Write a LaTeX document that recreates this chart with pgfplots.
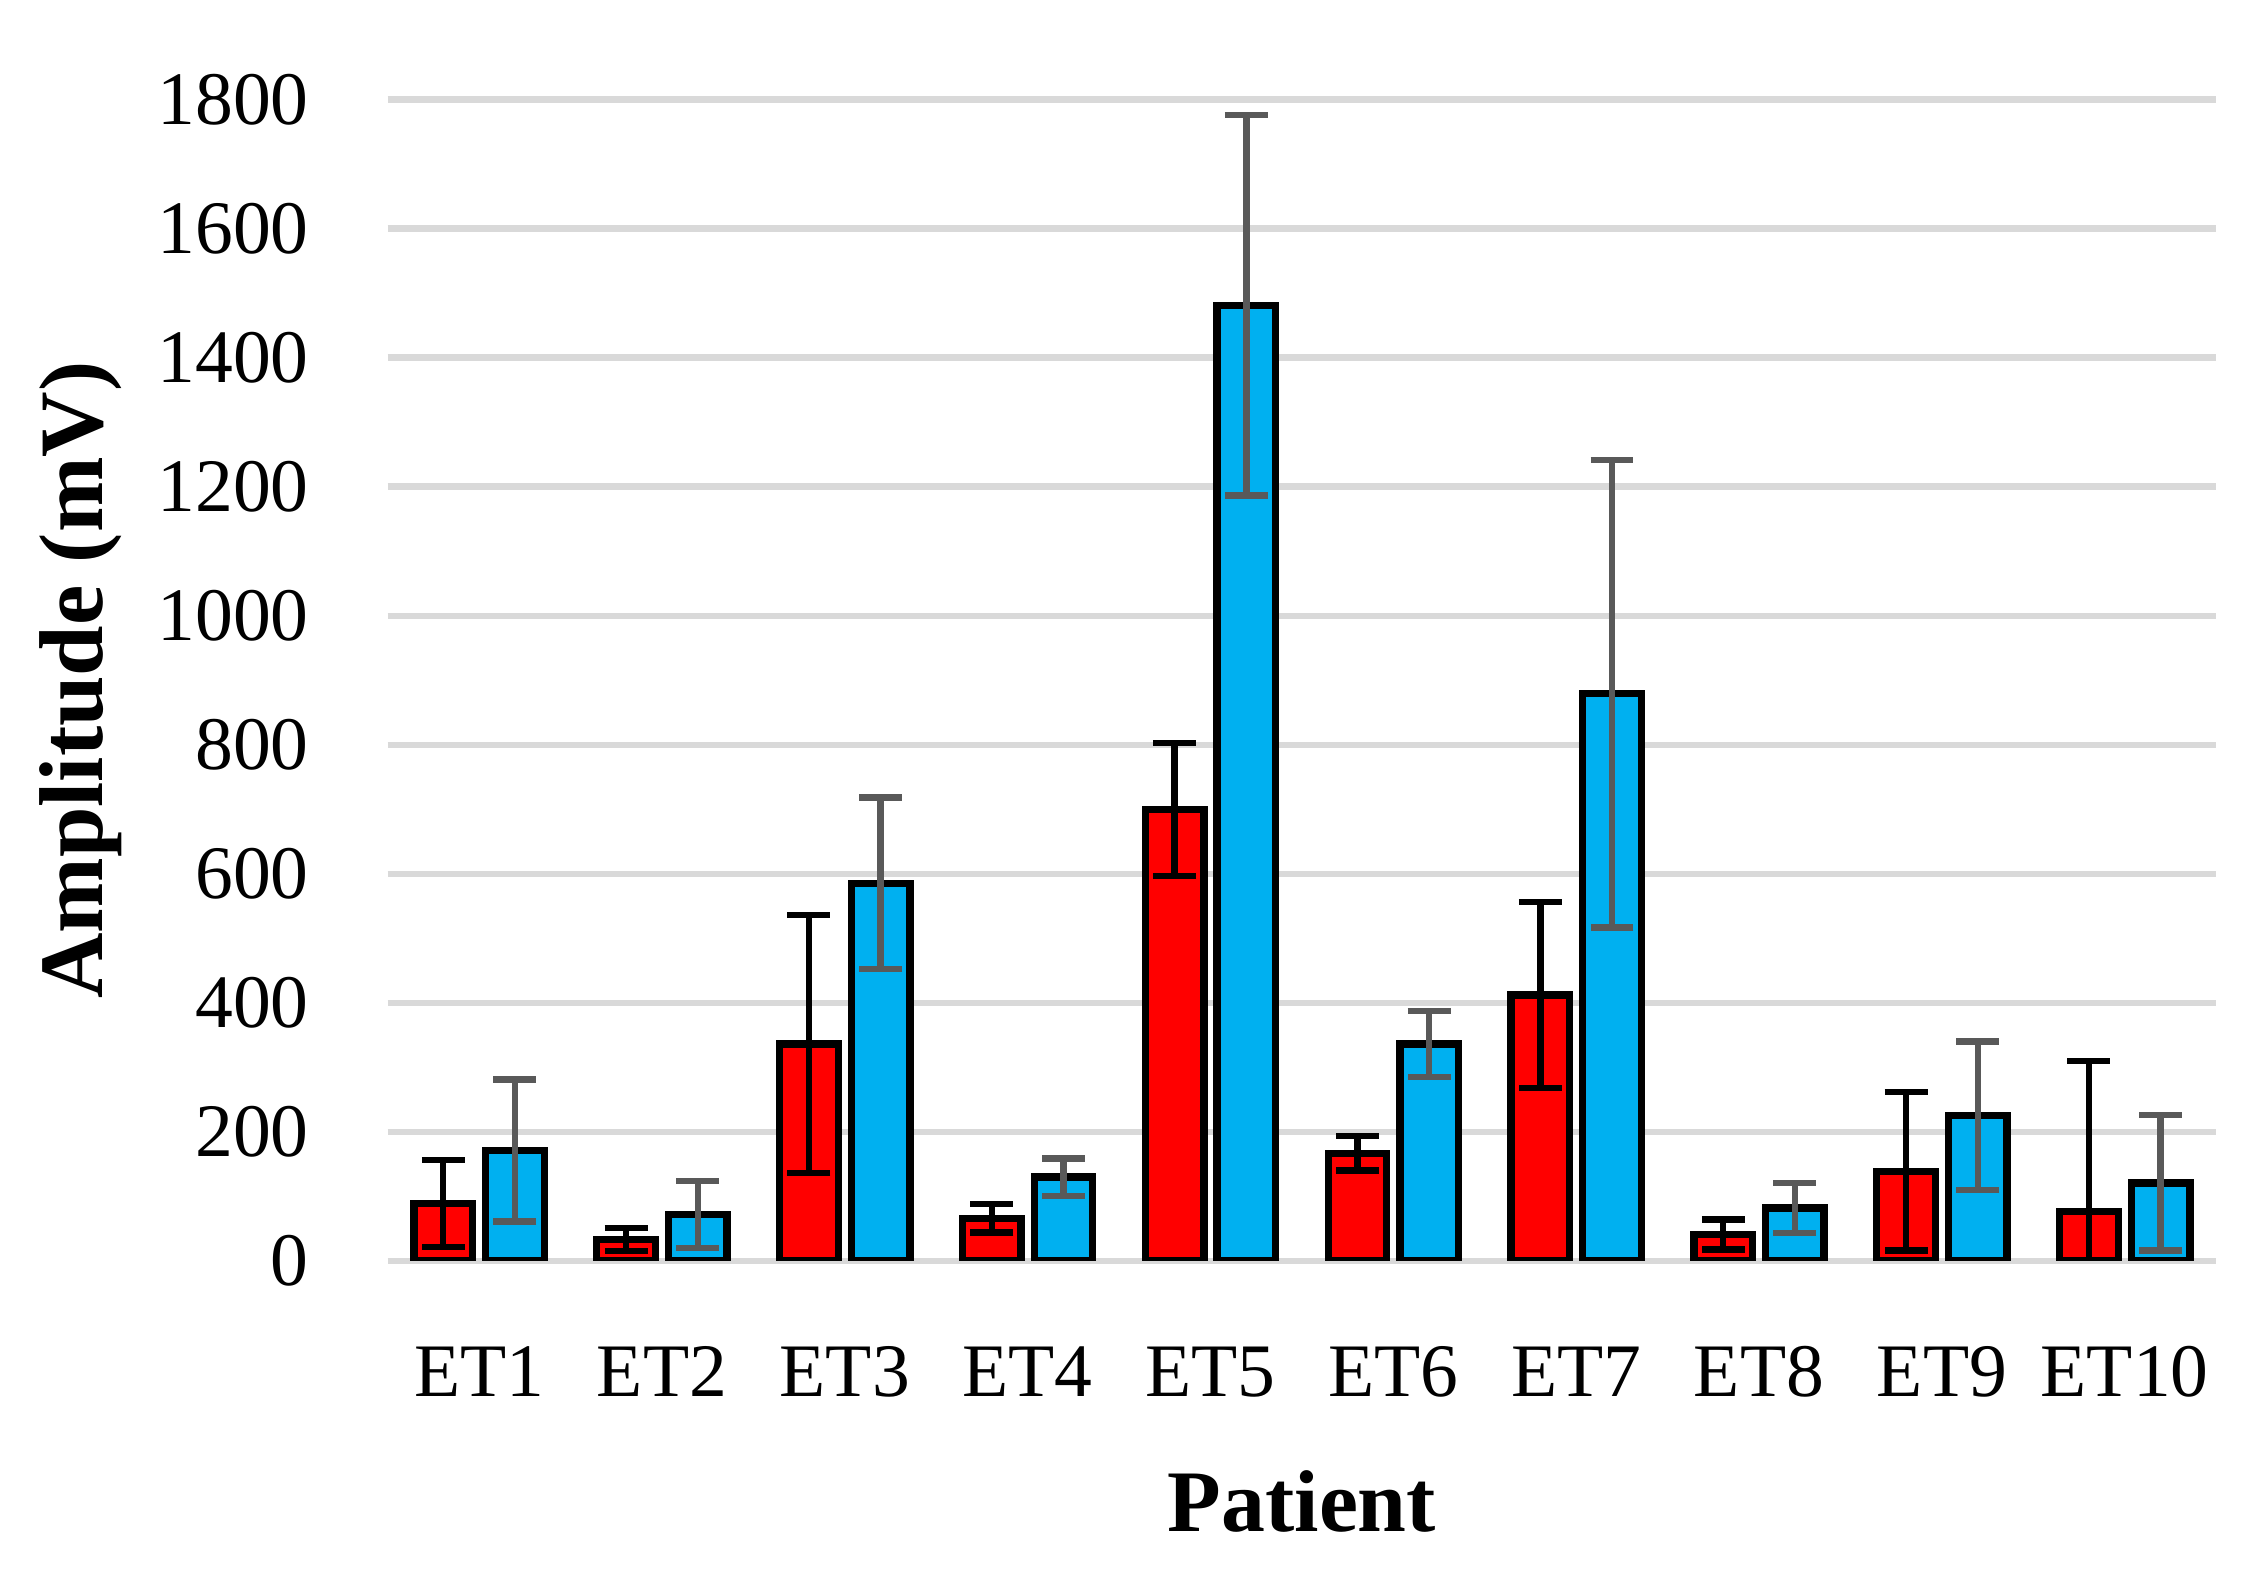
\documentclass[border=0pt]{standalone}
\usepackage{fontspec}
\setmainfont{Liberation Serif}
\usepackage{pgfplots}
\pgfplotsset{compat=1.18}
\definecolor{barred}{HTML}{FF0000}
\definecolor{barblue}{HTML}{00B0F0}
\definecolor{errgray}{HTML}{595959}
\definecolor{gridgray}{HTML}{D9D9D9}
\begin{document}
\begin{tikzpicture}
\begin{axis}[
  at={(0,0)}, anchor=south west,
  scale only axis, width=375pt, height=238.2pt,
  xmin=-0.5, xmax=9.5, ymin=0, ymax=1800,
  axis line style={draw=none},
  major tick length=0pt,
  tick style={draw=none},
  ytick={0,200,...,1800},
  ymajorgrids, grid style={gridgray, line width=1.3pt},
  xtick={0,...,9},
  xticklabels={ET1,ET2,ET3,ET4,ET5,ET6,ET7,ET8,ET9,ET10},
  scaled y ticks=false,
  /pgf/number format/1000 sep={},
  /pgf/number format/assume math mode=true,
  tick label style={font=\fontsize{15.5}{18}\selectfont},
  yticklabel style={anchor=east, inner sep=0pt, xshift=-16pt},
  xticklabel style={anchor=base, inner sep=0pt, yshift=-27.9pt},
  xlabel={Patient},
  ylabel={Amplitude (mV)},
  xlabel style={at={(axis description cs:0.5,0)}, anchor=base, inner sep=0pt, yshift=-55.5pt, font=\bfseries\fontsize{18}{21}\selectfont},
  ylabel style={at={(axis description cs:-0.168,0.5)}, anchor=center, inner sep=0pt, font=\bfseries\fontsize{18.6}{21}\selectfont},
  ybar=2.7pt, bar width=12pt,
]
\addplot[fill=barred, draw=black, line width=1.5pt,
  error bars/.cd, y dir=both, y explicit,
  error bar style={line width=1.3pt, black},
  error mark options={rotate=90, mark size=4.4pt, line width=1.3pt, black}]
coordinates {
  (0,89) +- (0,67)
  (1,33) +- (0,18)
  (2,336) +- (0,200)
  (3,66) +- (0,22)
  (4,700) +- (0,103)
  (5,167) +- (0,27)
  (6,412) +- (0,144)
  (7,41) +- (0,23)
  (8,139) +- (0,123)
  (9,77) += (0,233) -= (0,77)
};
\addplot[fill=barblue, draw=black, line width=1.5pt,
  error bars/.cd, y dir=both, y explicit,
  error bar style={line width=1.3pt, errgray},
  error mark options={rotate=90, mark size=4.4pt, line width=1.3pt, errgray}]
coordinates {
  (0,171) +- (0,110)
  (1,72) +- (0,52)
  (2,585) +- (0,133)
  (3,130) +- (0,29)
  (4,1481) +- (0,295)
  (5,336) +- (0,51)
  (6,879) +- (0,362)
  (7,82) +- (0,39)
  (8,225) +- (0,115)
  (9,121) +- (0,105)
};
\end{axis}
\pgfresetboundingbox
\path[use as bounding box] (-79.5pt,-65pt) rectangle (384.6pt,258.6pt);
\end{tikzpicture}
\end{document}
